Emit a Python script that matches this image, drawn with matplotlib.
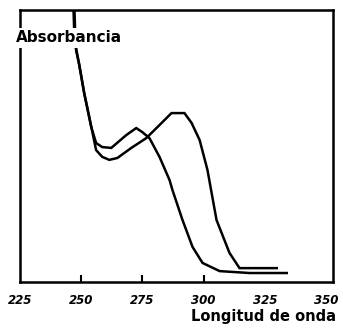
import matplotlib
matplotlib.use("Agg")
import matplotlib.pyplot as plt

# Data (wavelength in nm, absorbance in arbitrary units 0-1)
wl_a = [247.1, 247.5, 247.9, 249.2, 251.2, 254.1, 256.1, 258.6, 262.3, 268.4, 272.5,
        275.0, 277.9, 282.0, 286.1, 287.3, 291.4, 295.5, 299.6, 306.6, 318.8, 334.0]
abs_a = [1.05, 0.926, 0.853, 0.798, 0.695, 0.570, 0.511, 0.496, 0.493, 0.540, 0.566,
         0.551, 0.529, 0.460, 0.375, 0.338, 0.228, 0.129, 0.070, 0.040, 0.033, 0.033]

wl_b = [246.7, 247.1, 247.9, 249.2, 251.2, 254.1, 256.1, 258.6, 261.5, 264.8, 270.5,
        276.6, 282.0, 286.9, 292.2, 295.1, 298.4, 301.6, 305.3, 310.6, 314.7, 322.9, 329.9]
abs_b = [1.05, 0.935, 0.86, 0.80, 0.697, 0.572, 0.485, 0.460, 0.449, 0.456, 0.493,
         0.529, 0.577, 0.621, 0.621, 0.585, 0.522, 0.412, 0.228, 0.107, 0.051, 0.051, 0.051]

tick_values = [225, 250, 275, 300, 325, 350]
tick_labels = ["225", "250", "275", "300", "325", "350"]
marked_ticks = [250, 275, 300]

fig = plt.figure(figsize=(3.43, 3.34), dpi=100)
ax = fig.add_axes([20 / 343, 52 / 334, 313 / 343, 272 / 334])

ax.plot(wl_a, abs_a, color="black", lw=1.8, solid_joinstyle="miter")
ax.plot(wl_b, abs_b, color="black", lw=1.8, solid_joinstyle="miter")

ax.set_xlim(225, 352.9)
ax.set_ylim(0, 1)
ax.set_yticks([])
ax.xaxis.remove_overlapping_locs = False
ax.set_xticks(tick_values)
ax.set_xticklabels(tick_labels, fontsize=8.5, fontweight="bold", fontstyle="italic")
ax.tick_params(axis="x", which="major", length=0, pad=9)
ax.set_xticks(marked_ticks, minor=True)
ax.tick_params(axis="x", which="minor", direction="in", length=5, width=1.5)
for s in ax.spines.values():
    s.set_linewidth(1.8)

fig.text(16 / 343, 1 - 38 / 334, "Absorbancia", fontsize=11, fontweight="bold",
         ha="left", va="center", zorder=10,
         bbox=dict(facecolor="white", edgecolor="none", pad=1.5))
fig.text(336 / 343, 1 - 317 / 334, "Longitud de onda", fontsize=10.5, fontweight="bold",
         ha="right", va="center")

fig.savefig("out.png", dpi=100)
